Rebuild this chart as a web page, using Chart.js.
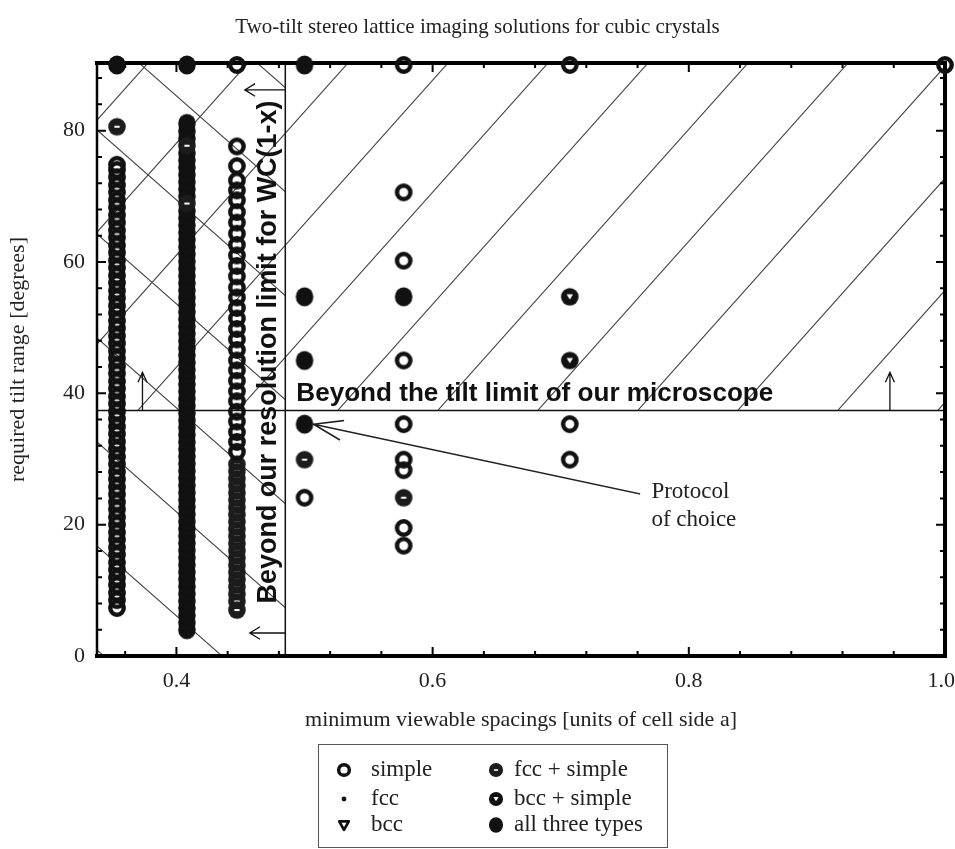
<!DOCTYPE html>
<html><head><meta charset="utf-8">
<script src="https://cdn.jsdelivr.net/npm/chart.js@4.4.0/dist/chart.umd.min.js"></script>
<style>
html,body{margin:0;padding:0;background:#fff;}
#wrap{position:relative;width:955px;height:849px;overflow:hidden;}
#legend{position:absolute;left:318px;top:744px;width:350px;height:104px;border:1px solid #555;box-sizing:border-box;font-family:'Liberation Serif','Times New Roman',serif;font-size:23px;color:#222;}
.item{position:absolute;height:26px;line-height:26px;white-space:nowrap;}
.item canvas{position:absolute;top:2px;}
.item span{position:absolute;top:0;}
</style></head><body>
<div id="wrap"><canvas id="c" width="955" height="849"></canvas><div id="legend"></div></div>
<script>
// ---------------- data ----------------
const xMin = 0.338, xMax = 1.0, yMin = 0, yMax = 90.3;
const xTickLabels = [0.4, 0.6, 0.8, 1.0];
const yTickLabels = [0, 20, 40, 60, 80];
const xMinorStep = 0.04, yMinorStep = 4;
const tiltLimit = 37.4;          // degrees
const resolutionLimit = 0.485;   // units of a

// dense columns (x = 1/sqrt(8), 1/sqrt(6), 1/sqrt(5))
const col0354Simple = [7.3, 8.5, 9.6, 10.8, 11.9, 13.1, 14.2, 15.4, 16.5, 17.7, 18.8, 20.0, 21.1, 22.3, 23.4, 24.6, 25.7, 26.9, 28.0, 29.2, 30.3, 31.5, 32.6, 33.8, 34.9, 36.1, 37.2, 38.4, 39.5, 40.7, 41.8, 43.0, 44.1, 45.3, 46.4, 47.6, 48.7, 49.9, 51.0, 52.2, 53.3, 54.5, 55.6, 56.8, 57.9, 59.1, 60.2, 61.4, 62.5, 63.7, 64.8, 66.0, 67.1, 68.3, 69.4, 70.6, 71.7, 72.9, 74.0, 74.8];
const col0354FccSimple = [80.6];
const col0408All = [4.0, 5.1, 6.2, 7.3, 8.4, 9.5, 10.6, 11.7, 12.8, 13.9, 15.0, 16.1, 17.2, 18.3, 19.4, 20.5, 21.6, 22.7, 23.8, 24.9, 26.0, 27.1, 28.2, 29.3, 30.4, 31.5, 32.6, 33.7, 34.8, 35.9, 37.0, 38.1, 39.2, 40.3, 41.4, 42.5, 43.6, 44.7, 45.8, 46.9, 48.0, 49.1, 50.2, 51.3, 52.4, 53.5, 54.6, 55.7, 56.8, 57.9, 59.0, 60.1, 61.2, 62.3, 63.4, 64.5, 65.6, 66.7, 67.8, 70.0, 71.1, 72.2, 73.3, 74.4, 75.5, 76.6, 78.8, 79.9, 81.1];
const col0408FccSimple = [68.9, 77.7];
const col0447Simple = [77.6, 74.6, 72.4, 70.9, 69.4, 67.6, 66.0, 64.3, 62.6, 61.0, 59.4, 57.8, 56.1, 54.6, 53.0, 51.4, 49.8, 48.2, 46.6, 45.0, 43.5, 41.9, 40.3, 38.8, 37.2, 35.7, 34.1, 32.6, 31.1];
const col0447FccSimple = [29.2, 28.1, 27.0, 25.9, 24.8, 23.7, 22.6, 21.5, 20.4, 19.3, 18.2, 17.1, 16.0, 14.9, 13.8, 12.7, 11.6, 10.5, 9.4, 8.3, 7.0];

// sparse points [spacing, tilt]
const simplePts = [[0.4472, 90], [0.5774, 90], [0.7071, 90], [1.0, 90], [0.5, 24.1], [0.5774, 70.6], [0.5774, 60.2], [0.5774, 45.0], [0.5774, 35.3], [0.5774, 29.9], [0.5774, 28.3], [0.5774, 19.5], [0.5774, 16.8], [0.7071, 35.3], [0.7071, 29.9]];
const fccPts = [];
const bccPts = [];
const fccSimplePts = [[0.5, 29.9], [0.5774, 24.1]];
const bccSimplePts = [[0.7071, 54.7], [0.7071, 45.0]];
const allThreePts = [[0.3536, 90], [0.4082, 90], [0.5, 90], [0.5, 54.7], [0.5, 45.0], [0.5, 35.3], [0.5774, 54.7]];

const legendLabels = ['simple', 'fcc', 'bcc', 'fcc + simple', 'bcc + simple', 'all three types'];
const protocolPoint = [0.5, 35.3];
const protocolTail = [0.7614, 24.7];
const protocolText = ['Protocol', 'of choice'];
const protocolTextPos = [[0.7708, 25.0], [0.7708, 20.7]];
const upArrowX = [0.3735, 0.957];
const upArrowTip = 43.2;
const leftArrowY = [86.2, 3.5];
const leftArrowTipX = [0.4534, 0.4573];

// ---------------- markers ----------------
function makeMarker(kind, scale) {
  const f = scale || 1;
  const s = 24, c = document.createElement('canvas'); c.width = c.height = s;
  const g = c.getContext('2d'), m = s / 2;
  g.fillStyle = '#111'; g.strokeStyle = '#111';
  if (kind === 'simple') { g.lineWidth = 4.4 * f; g.beginPath(); g.arc(m, m, 6.7 * f, 0, 2 * Math.PI); g.stroke(); }
  else if (kind === 'fcc') { g.beginPath(); g.arc(m, m, 3 * f, 0, 2 * Math.PI); g.fill(); }
  else if (kind === 'bcc') { g.lineWidth = 3.4 * f; g.lineJoin = 'round'; g.beginPath(); g.moveTo(m - 6 * f, m - 4.5 * f); g.lineTo(m + 6 * f, m - 4.5 * f); g.lineTo(m, m + 6 * f); g.closePath(); g.stroke(); }
  else if (kind === 'fccSimple') { g.fillStyle = '#1c1c1c'; g.beginPath(); g.arc(m, m, 8.8 * f, 0, 2 * Math.PI); g.fill(); g.fillStyle = '#fff'; g.fillRect(m - 2.6 * f, m - 1 * f, 5.2 * f, 2 * f); }
  else if (kind === 'bccSimple') { g.beginPath(); g.arc(m, m, 8.8 * f, 0, 2 * Math.PI); g.fill(); g.fillStyle = '#fff'; g.beginPath(); g.moveTo(m - 3.2 * f, m - 2.4 * f); g.lineTo(m + 3.2 * f, m - 2.4 * f); g.lineTo(m, m + 2.8 * f); g.closePath(); g.fill(); }
  else if (kind === 'allThree') { g.beginPath(); g.ellipse(m, m, 8.8 * f, 9.6 * f, 0, 0, 2 * Math.PI); g.fill(); }
  return c;
}
const kinds = ['simple', 'fcc', 'bcc', 'fccSimple', 'bccSimple', 'allThree'];
const markers = {}; kinds.forEach(k => markers[k] = makeMarker(k));

const col = (x, ys) => ys.map(y => ({x, y}));
const pairs = (ps) => ps.map(p => ({x: p[0], y: p[1]}));

const datasets = [
  {label: 'simple', data: [...col(0.3536, col0354Simple), ...col(0.4472, col0447Simple), ...pairs(simplePts)], pointStyle: markers.simple},
  {label: 'fcc', data: pairs(fccPts), pointStyle: markers.fcc},
  {label: 'bcc', data: pairs(bccPts), pointStyle: markers.bcc},
  {label: 'fcc + simple', data: [...col(0.3536, col0354FccSimple), ...col(0.4082, col0408FccSimple), ...col(0.4472, col0447FccSimple), ...pairs(fccSimplePts)], pointStyle: markers.fccSimple},
  {label: 'bcc + simple', data: pairs(bccSimplePts), pointStyle: markers.bccSimple},
  {label: 'all three types', data: [...col(0.4082, col0408All), ...pairs(allThreePts)], pointStyle: markers.allThree},
].map(d => Object.assign(d, {showLine: false, clip: false, pointRadius: 9}));

// ---------------- decorations ----------------
function arrow(ctx, x1, y1, x2, y2, head, spread) {
  ctx.beginPath(); ctx.moveTo(x1, y1); ctx.lineTo(x2, y2);
  const a = Math.atan2(y2 - y1, x2 - x1);
  ctx.moveTo(x2 - head * Math.cos(a - spread), y2 - head * Math.sin(a - spread));
  ctx.lineTo(x2, y2);
  ctx.lineTo(x2 - head * Math.cos(a + spread), y2 - head * Math.sin(a + spread));
  ctx.stroke();
}
function fitFont(ctx, text, width, weight, family) {
  ctx.font = weight + ' 20px ' + family;
  const size = 20 * width / ctx.measureText(text).width;
  ctx.font = weight + ' ' + size.toFixed(2) + 'px ' + family;
}
const serif = '"Liberation Serif", "Times New Roman", serif';

const deco = {
  id: 'deco',
  beforeDatasetsDraw(chart) {
    const {ctx, chartArea: a, scales: {x, y}} = chart;
    const xr = x.getPixelForValue(resolutionLimit), yt = y.getPixelForValue(tiltLimit);
    ctx.save();
    ctx.strokeStyle = '#444'; ctx.lineWidth = 1.1;
    // "/" hatch: tilt-limit region
    ctx.save(); ctx.beginPath(); ctx.rect(a.left, a.top, a.right - a.left, yt - a.top); ctx.clip();
    ctx.beginPath();
    for (let k = -4; k <= 10; k++) { const x0 = a.left + 251 + 100 * k; ctx.moveTo(x0 + 100, a.top - 112); ctx.lineTo(x0 - 800, a.top + 896); }
    ctx.stroke(); ctx.restore();
    // "\" hatch: resolution-limit region
    ctx.save(); ctx.beginPath(); ctx.rect(a.left, a.top, xr - a.left, a.bottom - a.top); ctx.clip();
    ctx.beginPath();
    for (let k = -3; k <= 7; k++) { const y0 = a.top + 67 + 104 * k; ctx.moveTo(a.left - 100, y0 - 88); ctx.lineTo(a.left + 800, y0 + 704); }
    ctx.stroke(); ctx.restore();
    // limit lines
    ctx.strokeStyle = '#111'; ctx.lineWidth = 1.5;
    ctx.beginPath(); ctx.moveTo(a.left, yt); ctx.lineTo(a.right, yt); ctx.moveTo(xr, a.top); ctx.lineTo(xr, a.bottom); ctx.stroke();
    // arrows
    ctx.lineWidth = 1.3;
    upArrowX.forEach(v => { const px = x.getPixelForValue(v); arrow(ctx, px, yt, px, y.getPixelForValue(upArrowTip), 11, 0.42); });
    leftArrowY.forEach((v, i) => { const py = y.getPixelForValue(v); arrow(ctx, xr, py, x.getPixelForValue(leftArrowTipX[i]), py, 12, 0.55); });
    // ticks
    ctx.strokeStyle = '#000'; ctx.lineWidth = 2;
    ctx.beginPath();
    for (let v = 0.36; v <= xMax + 1e-9; v += xMinorStep) {
      const px = x.getPixelForValue(v);
      const major = xTickLabels.some(t => Math.abs(t - v) < 1e-6);
      const L = major ? 9 : 5;
      ctx.moveTo(px, a.bottom); ctx.lineTo(px, a.bottom - L);
      ctx.moveTo(px, a.top); ctx.lineTo(px, a.top + L);
    }
    for (let v = yMinorStep; v < yMax; v += yMinorStep) {
      const py = y.getPixelForValue(v);
      const major = yTickLabels.includes(v);
      const L = major ? 9 : 5;
      ctx.moveTo(a.left, py); ctx.lineTo(a.left + L, py);
      ctx.moveTo(a.right, py); ctx.lineTo(a.right - L, py);
    }
    ctx.stroke();
    // frame
    ctx.lineWidth = 4; ctx.lineCap = 'square';
    ctx.beginPath(); ctx.moveTo(a.left, a.top); ctx.lineTo(a.right, a.top); ctx.lineTo(a.right, a.bottom); ctx.lineTo(a.left, a.bottom); ctx.stroke();
    ctx.lineWidth = 2.5; ctx.beginPath(); ctx.moveTo(a.left, a.top); ctx.lineTo(a.left, a.bottom); ctx.stroke();
    // x tick labels (kept inside the canvas at the right edge)
    ctx.fillStyle = '#222'; ctx.font = '22px ' + serif; ctx.textBaseline = 'middle'; ctx.textAlign = 'center';
    xTickLabels.forEach(v => {
      const t = v.toFixed(1), w = ctx.measureText(t).width;
      const px = Math.min(x.getPixelForValue(v), chart.width - w / 2);
      ctx.fillText(t, px, a.bottom + 25);
    });
    // region labels
    const sans = '"Liberation Sans", Arial, sans-serif';
    ctx.fillStyle = '#111';
    ctx.textAlign = 'left';
    const t1 = 'Beyond the tilt limit of our microscope';
    fitFont(ctx, t1, 477, 'bold', sans);
    ctx.fillText(t1, xr + 11, yt - 17);
    const t2 = 'Beyond our resolution limit for WC(1-x)';
    fitFont(ctx, t2, 503, 'bold', sans);
    ctx.save(); ctx.translate(xr - 17, a.top + 289); ctx.rotate(-Math.PI / 2); ctx.textAlign = 'center';
    ctx.fillText(t2, 0, 0); ctx.restore();
    // protocol annotation
    ctx.strokeStyle = '#222'; ctx.lineWidth = 1.6;
    arrow(ctx, x.getPixelForValue(protocolTail[0]), y.getPixelForValue(protocolTail[1]), x.getPixelForValue(protocolPoint[0]) + 9, y.getPixelForValue(protocolPoint[1]), 30, 0.33);
    ctx.font = '23px ' + serif;
    ctx.fillStyle = '#222';
    protocolText.forEach((t, i) => ctx.fillText(t, x.getPixelForValue(protocolTextPos[i][0]), y.getPixelForValue(protocolTextPos[i][1])));
    ctx.restore();
  }
};

new Chart(document.getElementById('c'), {
  type: 'scatter',
  data: {datasets},
  options: {
    responsive: false, animation: false, events: [],
    layout: {padding: {left: 8, right: 8, top: 0, bottom: 113}},
    plugins: {
      legend: {display: false}, tooltip: {enabled: false},
      title: {display: true, text: 'Two-tilt stereo lattice imaging solutions for cubic crystals', color: '#222',
        font: {family: serif, size: 21, weight: 'normal', lineHeight: 1.2}, padding: {top: 14.4, bottom: 23.4}}
    },
    scales: {
      x: {type: 'linear', min: xMin, max: xMax,
        grid: {display: false, drawTicks: false}, border: {display: false},
        afterFit: s => { s.height = 80; s.paddingLeft = 0; s.paddingRight = 0; },
        afterBuildTicks: s => { s.ticks = xTickLabels.map(v => ({value: v})); },
        ticks: {display: false},
        title: {display: true, text: 'minimum viewable spacings [units of cell side a]', color: '#222', font: {family: serif, size: 22}, padding: {top: 0, bottom: 3}}
      },
      y: {type: 'linear', min: yMin, max: yMax,
        grid: {display: false, drawTicks: false}, border: {display: false},
        afterFit: s => { s.width = 89; s.paddingTop = 0; s.paddingBottom = 0; },
        afterBuildTicks: s => { s.ticks = yTickLabels.map(v => ({value: v})); },
        ticks: {autoSkip: false, padding: 12, color: '#222', font: {family: serif, size: 22}, callback: v => String(v)},
        title: {display: true, text: 'required tilt range [degrees]', color: '#222', font: {family: serif, size: 22}, padding: {top: -3, bottom: 0}}
      }
    }
  },
  plugins: [deco]
});

// ---------------- legend (HTML) ----------------
const legend = document.getElementById('legend');
const legendCols = [[0, 1, 2], [3, 4, 5]];
const colMarkerLeft = [13, 165], colTextLeft = [52, 195], rowTop = [11, 40, 66];
legendCols.forEach((idxs, ci) => idxs.forEach((idx, ri) => {
  const it = document.createElement('div'); it.className = 'item';
  it.style.left = '0px'; it.style.top = rowTop[ri] + 'px';
  const cv = makeMarker(kinds[idx], 0.8); cv.style.left = colMarkerLeft[ci] + 'px';
  const sp = document.createElement('span'); sp.textContent = legendLabels[idx]; sp.style.left = colTextLeft[ci] + 'px';
  it.appendChild(cv); it.appendChild(sp); legend.appendChild(it);
}));
</script>
</body></html>
